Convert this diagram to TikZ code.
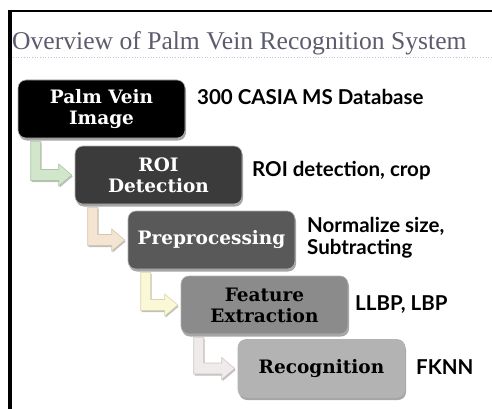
\documentclass[tikz,border=0pt]{standalone}
\usepackage{fontspec}
\setmainfont{Liberation Serif}
\newfontfamily\slabfont{DejaVu Serif}
\newfontfamily\lblfont{Lato}
\usetikzlibrary{calc,shadows}
\definecolor{titlec}{HTML}{5C5C6E}
\definecolor{dotc}{HTML}{B8C8DC}
\definecolor{boxa}{HTML}{000000}
\definecolor{boxb}{HTML}{3B3B3B}
\definecolor{boxc}{HTML}{595959}
\definecolor{boxd}{HTML}{8B8B8B}
\definecolor{boxe}{HTML}{B3B3B3}
\definecolor{arfa}{HTML}{D2E6CB}\definecolor{arda}{HTML}{A9C7A1}
\definecolor{arfb}{HTML}{F3E5D1}\definecolor{ardb}{HTML}{D6C6AE}
\definecolor{arfc}{HTML}{FAF8D6}\definecolor{ardc}{HTML}{D9D6AC}
\definecolor{arfd}{HTML}{F0EBEB}\definecolor{ardd}{HTML}{CFC6C6}
\tikzset{
  stage/.style={rounded corners=8pt, minimum width=167pt, minimum height=58pt,
    inner sep=0pt, align=center, draw=gray!60, line width=0.6pt,
    font=\slabfont\bfseries\fontsize{18.5}{21}\selectfont,
    drop shadow={shadow xshift=1pt, shadow yshift=-2.5pt, opacity=0.35, fill=black}},
  lbl/.style={anchor=west, inner sep=0pt, align=left,
    font=\lblfont\bfseries\fontsize{20.5}{22}\selectfont},
  arrshape/.style={line width=0.6pt, line join=miter,
    drop shadow={shadow xshift=1pt, shadow yshift=-1.5pt, opacity=0.25, fill=black}}
}
\newcommand\bentarr[4]{%
  \path[arrshape, fill=#3, draw=#4] let \p1=($(#1.south west)+(18,3)$), \p2=($(#2.west)+(-3,0)$) in
   (\x1-5pt,\y1) -- (\x1+5pt,\y1) -- (\x1+5pt,\y2+5.5pt) -- (\x2-13pt,\y2+5.5pt)
   -- (\x2-13pt,\y2+11pt) -- (\x2,\y2) -- (\x2-13pt,\y2-11pt) -- (\x2-13pt,\y2-5.5pt)
   -- (\x1-5pt,\y2-5.5pt) -- cycle;}
\begin{document}
\begin{tikzpicture}[x=1pt,y=-1pt]
\useasboundingbox (0,0) rectangle (492,409);
\fill[white] (0,0) rectangle (492,409);
% frame
\draw[line width=2pt] (9,11) -- (492,11);
\draw[line width=3.5pt] (10,10) -- (10,409);
% title
\node[anchor=base west, inner sep=0pt, text=titlec, font=\fontsize{25.6}{30}\selectfont] (title) at (12,50) {Overview of Palm Vein Recognition System};
\draw[dotc, dotted, line width=0.7pt] (13,57) -- (492,57);
% stages
\node[stage, fill=boxa, text=white] (b1) at (101.5,109) {Palm Vein\\Image};
\node[stage, fill=boxb, text=white] (b2) at (158.5,175) {ROI\\Detection};
\node[stage, fill=boxc, text=white] (b3) at (211.5,240) {Preprocessing};
\node[stage, fill=boxd, text=black] (b4) at (264.5,305) {Feature\\Extraction};
\node[stage, fill=boxe, text=black] (b5) at (321.5,368.5) {Recognition};
% labels
\node[lbl] (l1) at (197,97) {300 CASIA MS Database};
\node[lbl] (l2) at (252,171) {ROI detection, crop};
\node[lbl] (l3) at (307,238) {Normalize size,\\Subtracting};
\node[lbl] (l4) at (355,304.5) {LLBP, LBP};
\node[lbl] (l5) at (416,367.5) {FKNN};
% bent arrows
\bentarr{b1}{b2}{arfa}{arda}
\bentarr{b2}{b3}{arfb}{ardb}
\bentarr{b3}{b4}{arfc}{ardc}
\bentarr{b4}{b5}{arfd}{ardd}
\end{tikzpicture}
\end{document}
